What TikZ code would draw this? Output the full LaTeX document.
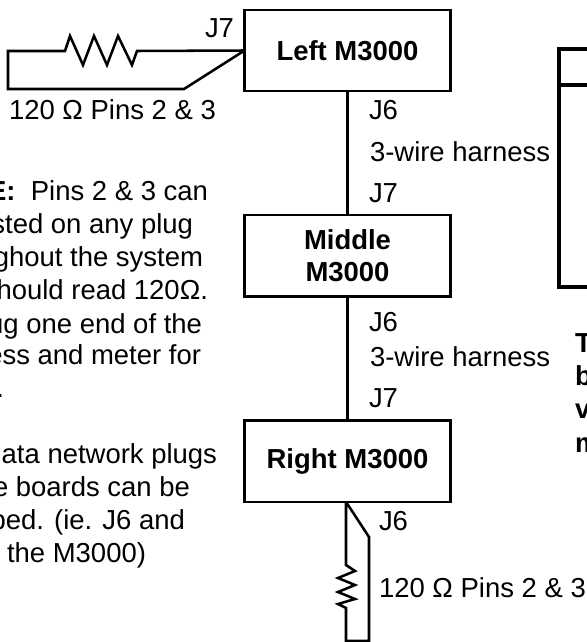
\documentclass[tikz,border=0pt]{standalone}
\usepackage{fontspec}
\setmainfont{Liberation Sans}
\usetikzlibrary{positioning}

\begin{document}
\begin{tikzpicture}[
    x=0.75pt, y=-0.75pt,
    node distance = 93pt and 93pt,
    font=\fontsize{20.6pt}{24pt}\selectfont,
    box/.style={draw, line width=1.9pt, outer sep=0pt, minimum width=154.5pt, minimum height=61pt, align=center, font=\fontsize{20.6pt}{24pt}\selectfont\bfseries},
    panel/.style={draw, line width=2.4pt, outer sep=0pt, minimum width=120pt},
    wire/.style={line width=1.9pt, line join=miter},
    lbl/.style={anchor=base west, inner sep=0pt, outer sep=0pt},
    note/.style={anchor=base east, inner sep=0pt, outer sep=0pt},
    mark text/.style={lbl, font=\fontsize{20.6pt}{24pt}\selectfont\bfseries}
]
\useasboundingbox (0,0) rectangle (586,642);

% Boxes
\node[box] (left) at (347.5,50.5) {Left M3000};
\node[box, below=of left] (middle) {Middle\\M3000};
\node[box, below=of middle] (right) {Right M3000};

% Panel at the right edge
\node[panel, anchor=north west, minimum height=27pt] (head) at (559,49) {};
\node[panel, anchor=north west, minimum height=151.5pt] (body) at (head.south west) {};

% Terminators
\coordinate (wireA) at (137,51);
\coordinate (wireB) at (8,51);
\coordinate (wireC) at (8,89);
\coordinate (wireD) at (184,89);
\coordinate (wireE) at (346,565);
\coordinate (wireF) at (346,641);
\coordinate (wireG) at (369,641);
\coordinate (wireH) at (369,537);

% Edges
\draw[wire] (left) -- (middle);
\draw[wire] (middle) -- (right);
\draw[wire] (left.west) -- (wireA) -- (132,65) -- (118,36) -- (107,65) -- (94,36) -- (83,65) -- (70,36) -- (65,51) -- (wireB) -- (wireC) -- (wireD) -- (left.west);
\draw[wire] (right.south -| wireE) -- (wireE) -- (355,571) -- (338,578) -- (355,585) -- (338,592) -- (355,599) -- (338,604) -- (346,608) -- (wireF) -- (wireG) -- (wireH) -- (right.south -| wireE);

% Labels
\node[lbl] (j7a) at (205,38) {J7};
\node[lbl] (r1) at (9,119) {120 Ω Pins 2 \& 3};
\node[lbl] (j6a) at (369,119) {J6};
\node[lbl] (h1) at (370,161) {3-wire harness};
\node[lbl] (j7b) at (369,202) {J7};
\node[lbl] (j6b) at (369,331) {J6};
\node[lbl] (h2) at (370,366) {3-wire harness};
\node[lbl] (j7c) at (369,407) {J7};
\node[lbl] (j6c) at (379,530) {J6};
\node[lbl] (r2) at (379,597) {120 Ω Pins 2 \& 3};

% Notes, cut by the page edge
\node[note] (n1) at (208,200) {\textbf{E:}\ \ Pins 2 \& 3 can};
\node[note] (n2) at (193,233) {sted on any plug};
\node[note] (n3) at (203,266) {ghout the system};
\node[note] (n4) at (208,299) {hould read 120Ω.};
\node[note] (n5) at (202,333) {ug one end of the};
\node[note] (n6) at (201,364) {ess and meter for};
\node[note] (n7) at (4,397) {.};
\node[note] (n8) at (217,463) {data network plugs};
\node[note] (n9) at (190,496) {e boards can be};
\node[note] (n10) at (185,529) {ped. (ie. J6 and};
\node[note] (n11) at (146,562) {the M3000)};
\node[mark text] (m1) at (575,352) {T};
\node[mark text] (m2) at (575,385) {b};
\node[mark text] (m3) at (575,418) {v};
\node[mark text] (m4) at (575,452) {m};

\end{tikzpicture}
\end{document}
